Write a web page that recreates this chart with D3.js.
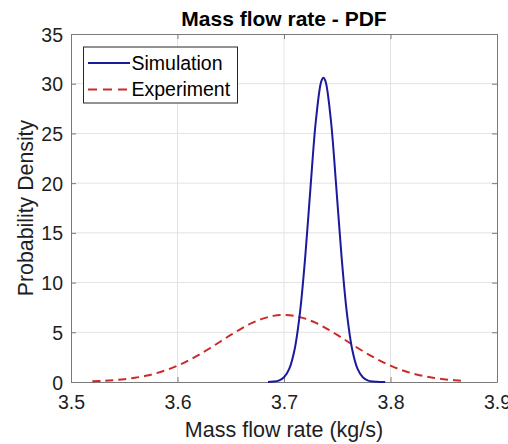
<!DOCTYPE html>
<html>
<head>
<meta charset="utf-8">
<script src="https://cdn.jsdelivr.net/npm/d3@7"></script>
<style>
  body { margin: 0; background: #fff; }
  text { font-family: "Liberation Sans", Arial, sans-serif; }
</style>
</head>
<body>
<svg id="chart"></svg>
<script>
// values
const sim_x = [3.685, 3.690, 3.695, 3.700, 3.705, 3.710, 3.715, 3.720, 3.725, 3.730, 3.735, 3.737,
               3.739, 3.744, 3.749, 3.754, 3.759, 3.764, 3.769, 3.774, 3.779, 3.784, 3.789, 3.795]
const sim_y = [0.01, 0.04, 0.14, 0.47, 1.34, 3.30, 6.98, 12.67, 19.73, 26.35, 30.23, 30.6,
               30.23, 26.35, 19.73, 12.67, 6.98, 3.30, 1.34, 0.47, 0.14, 0.04, 0.01, 0.0]

const exp_x = [3.52, 3.53, 3.54, 3.55, 3.56, 3.57, 3.58, 3.59, 3.60, 3.61, 3.62, 3.63, 3.64, 3.65,
               3.66, 3.67, 3.68, 3.69, 3.70, 3.71, 3.72, 3.73, 3.74, 3.75, 3.76, 3.77, 3.78, 3.79,
               3.80, 3.81, 3.82, 3.83, 3.84, 3.85, 3.86, 3.87]
const exp_y = [0.07, 0.11, 0.18, 0.28, 0.42, 0.62, 0.88, 1.22, 1.64, 2.15, 2.73, 3.37, 4.05, 4.73,
               5.38, 5.94, 6.37, 6.65, 6.74, 6.65, 6.37, 5.94, 5.38, 4.73, 4.05, 3.37, 2.73, 2.15,
               1.64, 1.22, 0.88, 0.62, 0.42, 0.28, 0.18, 0.11]

const x_ticks = [3.5, 3.6, 3.7, 3.8, 3.9]
const y_ticks = [0, 5, 10, 15, 20, 25, 30, 35]
const series_names = ['Simulation', 'Experiment']

width = 508
height = 444
marginLeft = 71
marginRight = 11
marginTop = 34
marginBottom = 62

const blue = '#1a1a9e'
const red = '#cc2a2a'
const axisColor = '#7a7a7a'

const svg = d3.select('#chart')
              .attr('width', width)
              .attr('height', height)
              .attr('viewBox', [0, 0, width, height])

const xScale = d3.scaleLinear([3.5, 3.9], [marginLeft, width - marginRight])
const yScale = d3.scaleLinear([0, 35], [height - marginBottom, marginTop])

// grid
svg.append('g')
   .selectAll('line')
   .data(x_ticks.slice(1, -1))
   .join('line')
     .attr('x1', d => xScale(d)).attr('x2', d => xScale(d))
     .attr('y1', yScale(0)).attr('y2', yScale(35))
     .attr('stroke', '#e3e3e3')
svg.append('g')
   .selectAll('line')
   .data(y_ticks.slice(1, -1))
   .join('line')
     .attr('x1', xScale(3.5)).attr('x2', xScale(3.9))
     .attr('y1', d => yScale(d)).attr('y2', d => yScale(d))
     .attr('stroke', '#e3e3e3')

// axes (ticks point inward, box on all four sides)
const xAxis = d3.axisBottom(xScale).tickValues(x_ticks).tickFormat(d3.format('.1f')).tickSizeInner(-5).tickSizeOuter(0).tickPadding(13)
const yAxis = d3.axisLeft(yScale).tickValues(y_ticks).tickSizeInner(-5).tickSizeOuter(0).tickPadding(8)

function style_axis(g) {
    g.select('.domain').attr('stroke', axisColor)
    g.selectAll('.tick line').attr('stroke', axisColor)
    g.selectAll('.tick text').attr('fill', '#1e1e1e').attr('font-size', 19.5).attr('font-family', '"Liberation Sans", Arial, sans-serif')
}

svg.append('g')
   .attr('transform', `translate(0,${yScale(0)})`)
   .call(xAxis)
   .call(style_axis)
svg.append('g')
   .attr('transform', `translate(${marginLeft},0)`)
   .call(yAxis)
   .call(style_axis)
   .call(g => g.selectAll('.tick text').attr('dy', '0.36em'))
svg.append('g')
   .attr('transform', `translate(0,${yScale(35)})`)
   .call(d3.axisTop(xScale).tickValues(x_ticks).tickFormat('').tickSizeInner(-5).tickSizeOuter(0))
   .call(style_axis)
svg.append('g')
   .attr('transform', `translate(${xScale(3.9)},0)`)
   .call(d3.axisRight(yScale).tickValues(y_ticks).tickFormat('').tickSizeInner(-5).tickSizeOuter(0))
   .call(style_axis)

// curves
const line = (xs, ys) => d3.line()
                           .curve(d3.curveCatmullRom)
                           .x(i => xScale(xs[i]))
                           .y(i => yScale(ys[i]))(d3.range(xs.length))

svg.append('path')
   .attr('d', line(exp_x, exp_y))
   .attr('fill', 'none')
   .attr('stroke', red)
   .attr('stroke-width', 2)
   .attr('stroke-dasharray', '8,5')
svg.append('path')
   .attr('d', line(sim_x, sim_y))
   .attr('fill', 'none')
   .attr('stroke', blue)
   .attr('stroke-width', 2)

// title and labels
svg.append('text')
   .attr('x', (xScale(3.5) + xScale(3.9)) / 2)
   .attr('y', 26)
   .attr('text-anchor', 'middle')
   .attr('font-size', 21)
   .attr('font-weight', 'bold')
   .text('Mass flow rate - PDF')
svg.append('text')
   .attr('x', (xScale(3.5) + xScale(3.9)) / 2)
   .attr('y', 437)
   .attr('text-anchor', 'middle')
   .attr('font-size', 21.5)
   .attr('fill', '#1e1e1e')
   .text('Mass flow rate (kg/s)')
svg.append('text')
   .attr('transform', `translate(33,${(yScale(0) + yScale(35)) / 2}) rotate(-90)`)
   .attr('text-anchor', 'middle')
   .attr('font-size', 21.3)
   .attr('fill', '#1e1e1e')
   .text('Probability Density')

// legend
const legend = svg.append('g')
legend.append('rect')
      .attr('x', 83.5).attr('y', 47)
      .attr('width', 154).attr('height', 56)
      .attr('fill', '#fff')
      .attr('stroke', '#262626')
legend.selectAll('g')
      .data(series_names)
      .join('g')
        .attr('transform', (d, i) => `translate(0,${63 + i * 26.5})`)
        .each(function(d, i) {
            const g = d3.select(this)
            g.append('line')
             .attr('x1', 88).attr('x2', 130)
             .attr('stroke', i == 0 ? blue : red)
             .attr('stroke-width', 2)
             .attr('stroke-dasharray', i == 0 ? null : '9,6')
            g.append('text')
             .attr('x', 131.5)
             .attr('y', 6.5)
             .attr('font-size', 19.5)
             .attr('fill', '#000')
             .text(d)
        })
</script>
</body>
</html>
